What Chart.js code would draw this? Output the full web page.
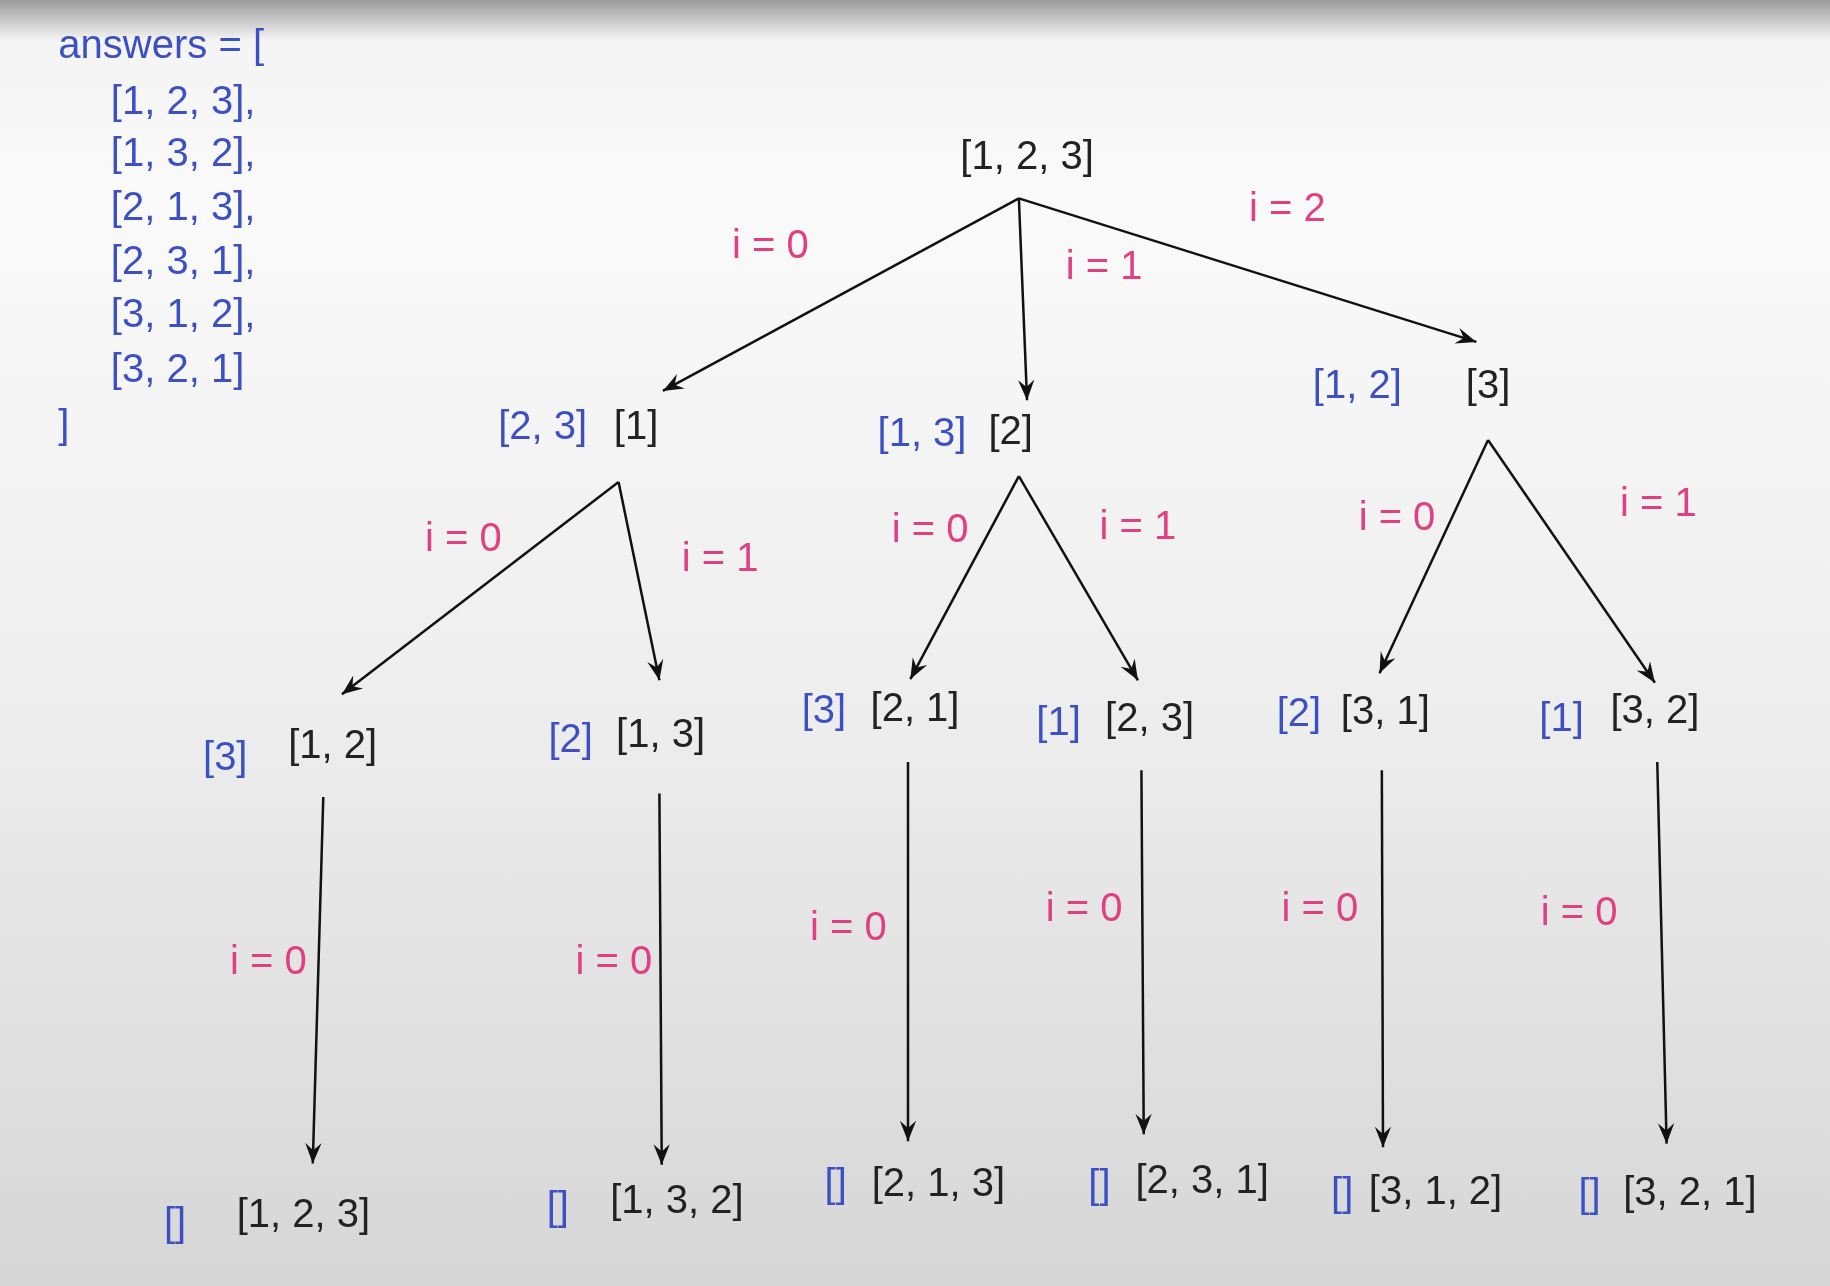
<!DOCTYPE html>
<html><head><meta charset="utf-8">
<script src="https://cdn.jsdelivr.net/npm/chart.js@4"></script>
<style>
html,body{margin:0;padding:0;}
body{width:1830px;height:1286px;overflow:hidden;background:linear-gradient(180deg,#9a9a9a 0px,#f4f4f4 40px,#fafafa 200px,#eeeeee 700px,#d6d6d6 1286px);}
#wrap{width:1830px;height:1286px;position:relative;}
</style></head><body>
<div id="wrap"><canvas id="c"></canvas></div>
<script>
// Diagram space: 1568 x 1102
const nodeTexts = ["[1, 2, 3]","[2, 3]","[1]","[1, 3]","[2]","[1, 2]","[3]",
"[3]","[1, 2]","[2]","[1, 3]","[3]","[2, 1]","[1]","[2, 3]","[2]","[3, 1]","[1]","[3, 2]",
"[]","[1, 2, 3]","[]","[1, 3, 2]","[]","[2, 1, 3]","[]","[2, 3, 1]","[]","[3, 1, 2]","[]","[3, 2, 1]"];
const nodeX = [880,465,545,790,866,1163,1275, 193,285,489,566,706,784,907,985,1113,1187,1338,1418,
150,260,478,580,716,804,942,1030,1150,1230,1362,1448];
const nodeY = [135,367,367,373,371,332,332, 650,640,635,631,610,608,620,617,613,611,617,610,
1050,1042,1036,1030,1016,1015,1017,1013,1024,1022,1025,1023];
const nodeKind = ["k","b","k","b","k","b","k", "b","k","b","k","b","k","b","k","b","k","b","k",
"b","k","b","k","b","k","b","k","b","k","b","k"];
const edgeText = ["i = 0","i = 1","i = 2","i = 0","i = 1","i = 0","i = 1","i = 0","i = 1",
"i = 0","i = 0","i = 0","i = 0","i = 0","i = 0"];
const edgeTX = [660,946,1103,397,617,797,975,1197,1421,230,526,727,929,1131,1353];
const edgeTY = [212,230,180,463,480,455,452,445,433,825,825,796,780,780,783];
const arrowFromX = [873,873,873,530,530,873,873,1275,1275,277,565,778,978,1184,1420];
const arrowFromY = [170,170,170,413,413,408,408,377,377,683,680,653,660,660,653];
const arrowToX = [568,880,1265,293,565,780,975,1182,1418,268,567,778,980,1185,1428];
const arrowToY = [335,343,293,595,583,582,583,577,585,997,998,978,972,983,980];
const answerLines = ["answers = [","[1, 2, 3],","[1, 3, 2],","[2, 1, 3],","[2, 3, 1],","[3, 1, 2],","[3, 2, 1]","]"];
const answerX = [50,95,95,95,95,95,95,50];
const answerY = [40,88,133,179,225,271,318,366];

const COL = {k:"#222222", b:"#3c50c4", p:"#e0407f"};
const FONT = "40px 'Liberation Sans', Arial, sans-serif";

const datasets = arrowFromX.map((x,i)=>({
  data:[{x:x,y:arrowFromY[i]},{x:arrowToX[i],y:arrowToY[i]}],
  showLine:true, borderColor:"#111", borderWidth:2.5, pointRadius:0, fill:false
}));

const textPlugin = {
  id:"texts",
  afterDatasetsDraw(chart){
    const {ctx, scales:{x, y}} = chart;
    ctx.save();
    // arrowheads
    arrowFromX.forEach((fx,i)=>{
      const x1=x.getPixelForValue(fx), y1=y.getPixelForValue(arrowFromY[i]);
      const x2=x.getPixelForValue(arrowToX[i]), y2=y.getPixelForValue(arrowToY[i]);
      const a=Math.atan2(y2-y1,x2-x1), L=22, W=0.38;
      ctx.fillStyle="#111";
      ctx.beginPath();
      ctx.moveTo(x2,y2);
      ctx.lineTo(x2-L*Math.cos(a-W),y2-L*Math.sin(a-W));
      ctx.lineTo(x2-L*0.6*Math.cos(a),y2-L*0.6*Math.sin(a));
      ctx.lineTo(x2-L*Math.cos(a+W),y2-L*Math.sin(a+W));
      ctx.closePath(); ctx.fill();
    });
    ctx.font=FONT; ctx.textBaseline="middle";
    ctx.textAlign="center";
    nodeTexts.forEach((t,i)=>{
      ctx.fillStyle=COL[nodeKind[i]];
      ctx.fillText(t,x.getPixelForValue(nodeX[i]),y.getPixelForValue(nodeY[i]));
    });
    ctx.fillStyle=COL.p;
    edgeText.forEach((t,i)=>ctx.fillText(t,x.getPixelForValue(edgeTX[i]),y.getPixelForValue(edgeTY[i])));
    ctx.textAlign="left"; ctx.fillStyle=COL.b;
    answerLines.forEach((t,i)=>ctx.fillText(t,x.getPixelForValue(answerX[i]),y.getPixelForValue(answerY[i])));
    ctx.restore();
  }
};

new Chart(document.getElementById("c"),{
  type:"scatter",
  data:{datasets},
  options:{
    responsive:true, maintainAspectRatio:false, animation:false,
    layout:{padding:0},
    plugins:{legend:{display:false},tooltip:{enabled:false}},
    scales:{
      x:{type:"linear",min:0,max:1568,display:false},
      y:{type:"linear",min:0,max:1102,reverse:true,display:false}
    }
  },
  plugins:[textPlugin]
});
</script></body></html>
